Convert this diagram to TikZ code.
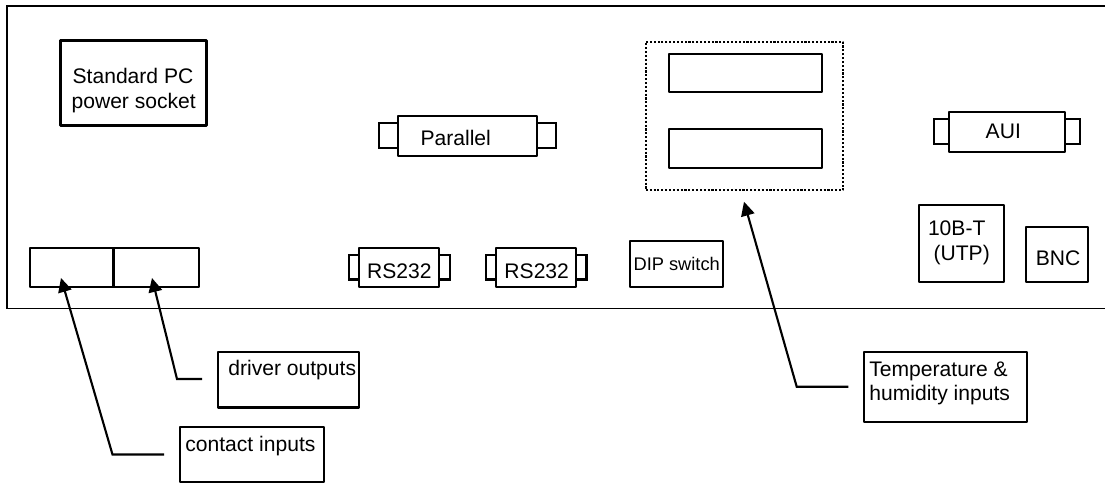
\documentclass[tikz,border=0pt]{standalone}
\usepackage{fontspec}
\setmainfont{Liberation Sans}
\usetikzlibrary{arrows.meta}

\tikzset{
  boxnode/.style={draw,line width=1.2pt,outer sep=0pt,inner sep=0pt,line join=round},
  textnode/.style={inner sep=0pt,anchor=base,font=\fontsize{12}{14}\selectfont},
  lefttext/.style={textnode,anchor=base west},
  leader/.style={line width=1.2pt,-{Triangle[length=0.28cm,width=0.27cm]}}
}

\begin{document}
\begin{tikzpicture}[x=0.02cm,y=-0.02cm]
    \useasboundingbox (0,0) rectangle (1105,483);

    % draw panel outline
    \draw[line width=1.4pt] (1105,6) -- (7,6) -- (7,308.5);
    \draw[line width=1.1pt] (6.5,308.5) -- (1105,308.5);

    % draw connector tabs
    \foreach \xa/\xb/\ya/\yb in {379/397.7/123.3/147.7, 537.3/555.6/123.3/147.7,
        348.7/359.3/255/279.5, 439/450/255/279.5,
        486/496.3/255/279.5, 576/586.5/255/279.5,
        934/949.3/119.3/143.7, 1065/1080.3/119.3/143.7}
      \draw[line width=1.2pt] (\xa,\ya) rectangle (\xb,\yb);

    % draw boxes on the panel
    \node[boxnode,minimum width=2.92cm,minimum height=1.7cm] (socket) at (133.5,83) {};
    \node[boxnode,minimum width=1.67cm,minimum height=0.79cm] (contactslot) at (71.75,267.6) {};
    \node[boxnode,minimum width=1.71cm,minimum height=0.79cm] (driverslot) at (156.25,267.6) {};
    \node[boxnode,fill=white,minimum width=2.79cm,minimum height=0.8cm] (parallel) at (467.5,135.7) {};
    \node[boxnode,fill=white,minimum width=1.594cm,minimum height=0.79cm] (rsa) at (399.15,267.5) {};
    \node[boxnode,fill=white,minimum width=1.594cm,minimum height=0.79cm] (rsb) at (536.15,267.5) {};
    \node[boxnode,minimum width=1.86cm,minimum height=0.93cm] (dip) at (676.5,264) {};
    \node[boxnode,minimum width=3.06cm,minimum height=0.77cm] (slota) at (745.2,73) {};
    \node[boxnode,minimum width=3.06cm,minimum height=0.79cm] (slotb) at (745.2,148.65) {};
    \node[boxnode,dash pattern=on 1.2pt off 1pt,line width=1.3pt,minimum width=3.95cm,minimum height=2.97cm] (sensors) at (744.5,116) {};
    \node[boxnode,fill=white,minimum width=2.31cm,minimum height=0.79cm] (aui) at (1007.15,131.85) {};
    \node[boxnode,minimum width=1.69cm,minimum height=1.54cm] (utp) at (961.65,243.2) {};
    \node[boxnode,minimum width=1.25cm,minimum height=1.09cm] (bnc) at (1056.85,254.35) {};

    % draw boxes below the panel
    \node[boxnode,minimum width=2.82cm,minimum height=1.11cm] (driver) at (288.5,379.75) {};
    \node[boxnode,minimum width=2.88cm,minimum height=1.1cm] (contact) at (252,454.1) {};
    \node[boxnode,minimum width=3.25cm,minimum height=1.39cm] (temp) at (945.35,387) {};

    % draw text
    \node[textnode] (socketa) at (133,84) {Standard PC};
    \node[textnode] (socketb) at (133.7,109) {power socket};
    \node[textnode] (parallellabel) at (455.7,145.7) {Parallel};
    \node[textnode] (rsalabel) at (399.3,278.3) {RS232};
    \node[textnode] (rsblabel) at (536.7,278.3) {RS232};
    \node[textnode,font=\fontsize{10.4}{12}\selectfont] (diplabel) at (676.7,270.3) {DIP switch};
    \node[textnode] (auilabel) at (1003.3,138.3) {AUI};
    \node[textnode] (utpa) at (956.7,235) {10B-T};
    \node[textnode] (utpb) at (961.7,260.7) {(UTP)};
    \node[textnode] (bnclabel) at (1058,265) {BNC};
    \node[lefttext] (driverlabel) at (228,375) {driver outputs};
    \node[lefttext] (contactlabel) at (185,451.7) {contact inputs};
    \node[lefttext] (tempa) at (869,376) {Temperature \&};
    \node[lefttext] (tempb) at (869,400) {humidity inputs};

    % draw leader lines
    \coordinate (contacttail) at (164,454.5);
    \coordinate (contactbend) at (112.5,454.5);
    \coordinate (contacttip) at (61,278);
    \coordinate (drivertail) at (202,379);
    \coordinate (driverbend) at (177,379);
    \coordinate (drivertip) at (152,278);
    \coordinate (temptail) at (848.3,386.7);
    \coordinate (tempbend) at (796.7,386.7);
    \coordinate (temptip) at (744,201.7);

    \draw[leader] (contacttail) -- (contactbend) -- (contacttip);
    \draw[leader] (drivertail) -- (driverbend) -- (drivertip);
    \draw[leader] (temptail) -- (tempbend) -- (temptip);

\end{tikzpicture}
\end{document}
